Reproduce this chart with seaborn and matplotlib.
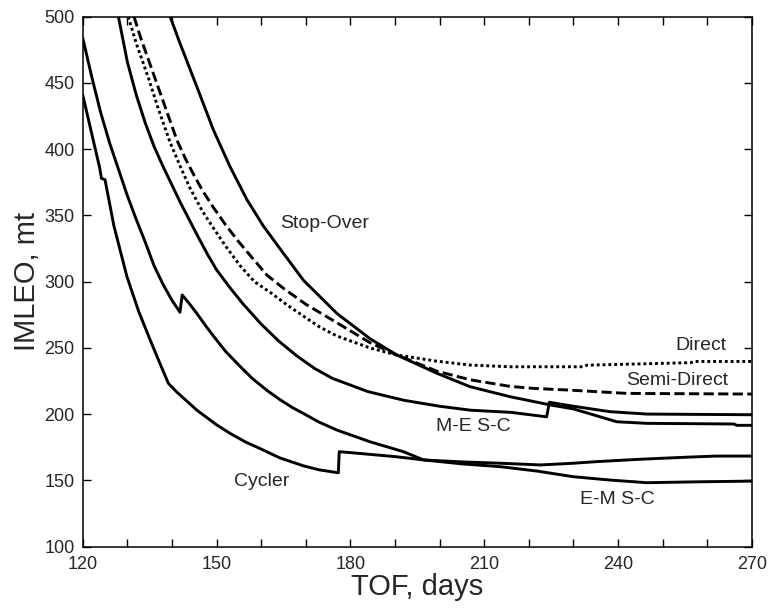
import matplotlib
matplotlib.use('Agg')
import matplotlib.pyplot as plt
from matplotlib.ticker import MultipleLocator
import pandas as pd
import seaborn as sns

sns.set_style('ticks')
plt.rcParams['font.family'] = ['Liberation Sans', 'DejaVu Sans']

# curves (TOF in days, IMLEO in mt)
cycler_tof = [120, 122, 123.8, 124.2, 125.0, 127, 129.9, 132.5, 135, 137.3, 139.2, 141, 145.6, 150, 153,
              156.5, 159.8, 164.2, 169.5, 173, 177.3, 177.5, 180, 190, 196.4, 205, 213.6, 222.6, 230,
              235.2, 245, 255, 262, 270]
cycler_imleo = [441, 412, 386, 378, 377, 342, 304, 278, 257, 238.4, 223.3, 217, 203, 192, 185.6,
                179, 174, 167, 161, 158, 155.8, 171.7, 171, 168, 165.5, 164, 163, 161.7, 163,
                164.2, 166, 167.5, 168.4, 168.4]

em_tof = [120, 122, 124, 126, 128, 130, 132, 134, 136, 138, 140, 141.8, 142.3, 144, 145.6, 147.5,
          149.3, 152, 155.3, 158, 161.3, 164.2, 167, 169.5, 173, 177, 184.4, 191.9, 196.4, 205,
          213.6, 222, 230, 238.2, 246.5, 258.4, 270]
em_imleo = [484, 455, 428, 405, 385, 365, 347, 330, 312, 298, 286, 277, 290, 283, 276, 267,
            259, 247.5, 236, 227, 218, 211, 205, 200.5, 194, 188, 179.2, 171.7, 165.5, 162.5,
            160.4, 157, 152.8, 150.3, 148.3, 149, 149.5]

me_tof = [128, 130, 132, 134, 136, 138, 140, 142, 144, 146, 148, 150, 153, 156, 160, 164, 168, 172,
          176, 184, 192, 200, 207, 216, 224, 224.6, 230, 238.2, 246.5, 270]
me_imleo = [500, 466, 441, 420, 402, 387, 373, 359, 346, 333, 320.5, 309, 295.5, 283, 268, 255, 244,
            234.5, 227, 217, 210.5, 206, 203, 201.4, 198, 209, 206, 201.9, 200.1, 199.6]

stop_tof = [139.6, 141.8, 145.6, 149.3, 153, 156.8, 160.5, 164.2, 169.5, 177, 184.4, 190.4, 199.4,
            206.8, 215.8, 224.8, 230, 235, 239.7, 246.5, 266, 266.6, 270]
stop_imleo = [500, 480, 447, 414.5, 387, 362, 342, 325, 301, 276, 257, 244.7, 230.9, 220.8, 213.2,
              207, 204, 199, 194.3, 193.1, 192.6, 191.6, 191.6]

semi_tof = [131.5, 133, 135, 137, 139, 141.1, 143, 145, 147, 149.3, 152, 155, 158, 161.3, 165, 170,
            177, 184.4, 190.4, 199.4, 206.8, 215.8, 221, 228.5, 242, 270]
semi_imleo = [500, 484, 465, 446, 427, 407, 393, 380, 368, 356, 343, 330, 318, 305, 295, 283, 269,
              254, 244.7, 232.5, 226, 221, 219.5, 218.3, 215.7, 215.2]

direct_tof = [130.2, 132, 134.7, 137, 139.6, 142, 144, 146.7, 149, 152, 155.3, 158.5, 162, 166,
              169.5, 173, 177, 184.4, 190.4, 199.4, 206.8, 215.8, 232.3, 233, 256.3, 257, 270]
direct_imleo = [500, 480, 454, 430, 405, 386, 371, 354, 342, 327, 312, 300, 292, 282, 274, 266, 259,
                250, 244.7, 240, 237.1, 235.8, 235.8, 237, 238.9, 239.8, 239.8]

curves = [
    ('Cycler', cycler_tof, cycler_imleo, '-'),
    ('E-M S-C', em_tof, em_imleo, '-'),
    ('M-E S-C', me_tof, me_imleo, '-'),
    ('Stop-Over', stop_tof, stop_imleo, '-'),
    ('Semi-Direct', semi_tof, semi_imleo, (0, (3.5, 1.5))),
    ('Direct', direct_tof, direct_imleo, (0, (1, 1))),
]

label_names = ['Stop-Over', 'Cycler', 'M-E S-C', 'E-M S-C', 'Direct', 'Semi-Direct']
label_tof = [174.3, 160.1, 207.6, 239.9, 258.6, 253.2]
label_imleo = [344.3, 149, 190.7, 135.3, 252.2, 225.2]

fig = plt.figure(figsize=(7.68, 6.12), dpi=100)
ax = fig.add_axes([0.1077, 0.1067, 0.979 - 0.1077, 0.9727 - 0.1067])

for name, tof, imleo, ls in curves:
    df = pd.DataFrame({'tof': tof, 'imleo': imleo})
    sns.lineplot(x='tof', y='imleo', data=df, ax=ax, color='black',
                 linestyle=ls, linewidth=2.1, sort=False, estimator=None)

for name, tx, ty in zip(label_names, label_tof, label_imleo):
    ax.text(tx, ty, name, fontsize=14, ha='center', va='center')

ax.set_xlim(120, 270)
ax.set_ylim(100, 500)
ax.xaxis.set_major_locator(MultipleLocator(30))
ax.xaxis.set_minor_locator(MultipleLocator(10))
ax.yaxis.set_major_locator(MultipleLocator(50))
ax.tick_params(which='both', direction='in', top=True, right=True, length=6,
               width=1, color='black', labelsize=13)
ax.tick_params(axis='x', pad=7)
ax.tick_params(axis='y', pad=6)
for sp in ax.spines.values():
    sp.set_linewidth(1.1)
    sp.set_color('black')

ax.set_xlabel('TOF, days', fontsize=21, labelpad=0)
ax.set_ylabel('IMLEO, mt', fontsize=21, labelpad=2)

fig.savefig('out.png', dpi=100)
